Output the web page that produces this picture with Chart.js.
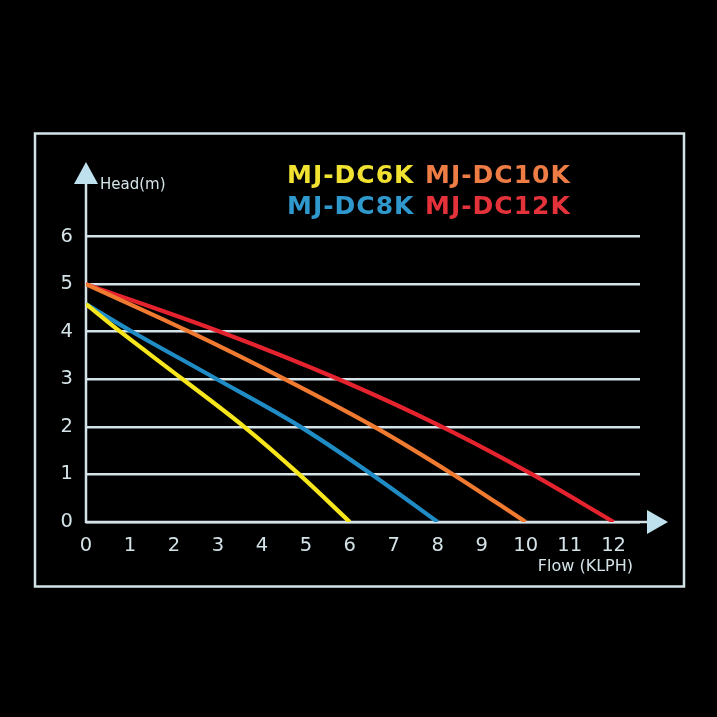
<!DOCTYPE html>
<html><head><meta charset="utf-8">
<script src="https://cdn.jsdelivr.net/npm/chart.js@4.4.0/dist/chart.umd.min.js"></script>
<style>html,body{margin:0;padding:0;background:#000;overflow:hidden}#c{display:block}</style>
</head><body>
<canvas id="c" width="717" height="717" style="width:717px;height:717px"></canvas>
<script>
// ---- data ----
const seriesNames = ['MJ-DC6K', 'MJ-DC8K', 'MJ-DC10K', 'MJ-DC12K'];
const headTicks = [0, 1, 2, 3, 4, 5, 6];
const flowTicks = [0, 1, 2, 3, 4, 5, 6, 7, 8, 9, 10, 11, 12];
const dc6kFlow = [0, 0.78, 2.2, 3.6, 4.85, 6];
const dc6kHead = [4.58, 4, 3, 2, 1, 0];
const dc8kFlow = [0, 1.05, 2.98, 4.88, 6.5, 8];
const dc8kHead = [4.58, 4, 3, 2, 1, 0];
const dc10kFlow = [0, 2.35, 4.53, 6.56, 8.35, 10];
const dc10kHead = [5, 4, 3, 2, 1, 0];
const dc12kFlow = [0, 3.05, 5.75, 8.1, 10.15, 12];
const dc12kHead = [5, 4, 3, 2, 1, 0];
const xTitle = 'Flow (KLPH)';
const yTitle = 'Head(m)';

// ---- styles ----
const lineColors = ['#f7e61c', '#1f8cc6', '#f07a30', '#e5232f'];
const textColors = ['#f1e232', '#2f98cc', '#ee7d45', '#e3323a'];
const ink = '#d3e3e8';
const arrowInk = '#bfe1ee';

function pts(xs, ys) { return xs.map((v, i) => ({ x: v, y: ys[i] })); }
const seriesFlow = [dc6kFlow, dc8kFlow, dc10kFlow, dc12kFlow];
const seriesHead = [dc6kHead, dc8kHead, dc10kHead, dc12kHead];

const datasets = seriesNames.map((n, i) => ({
  label: n,
  data: pts(seriesFlow[i], seriesHead[i]),
  borderColor: lineColors[i],
  backgroundColor: lineColors[i],
  borderWidth: 4.2,
  pointRadius: 0,
  fill: false,
  tension: 0.35,
  borderCapStyle: 'butt'
}));

const deco = {
  id: 'deco',
  beforeDraw(chart) {
    const ctx = chart.ctx;
    ctx.save();
    ctx.fillStyle = '#000';
    ctx.fillRect(0, 0, chart.width, chart.height);
    ctx.strokeStyle = ink;
    ctx.lineWidth = 2.5;
    ctx.strokeRect(35, 133.5, 649, 453);
    ctx.restore();
  },
  beforeDatasetsDraw(chart) {
    const ctx = chart.ctx;
    const xs = chart.scales.x, ys = chart.scales.y;
    const x0 = xs.getPixelForValue(0), y0 = ys.getPixelForValue(0);
    const top = chart.chartArea.top, right = chart.chartArea.right;
    ctx.save();
    ctx.strokeStyle = ink;
    ctx.lineWidth = 2.5;
    ctx.beginPath();
    ctx.moveTo(x0, y0 + 1);
    ctx.lineTo(x0, top - 6);
    ctx.stroke();
    ctx.beginPath();
    ctx.moveTo(x0 - 1, y0);
    ctx.lineTo(right + 8, y0);
    ctx.stroke();
    ctx.fillStyle = arrowInk;
    ctx.beginPath();
    ctx.moveTo(x0 - 12, top - 5);
    ctx.lineTo(x0 + 12, top - 5);
    ctx.lineTo(x0, top - 27);
    ctx.closePath();
    ctx.fill();
    ctx.beginPath();
    ctx.moveTo(right + 7, y0 - 12);
    ctx.lineTo(right + 7, y0 + 12);
    ctx.lineTo(right + 28, y0);
    ctx.closePath();
    ctx.fill();
    ctx.fillStyle = ink;
    ctx.textBaseline = 'middle';
    ctx.textAlign = 'left';
    ctx.font = '15px "DejaVu Sans"';
    ctx.fillText(yTitle, x0 + 14, top - 4);
    ctx.textAlign = 'right';
    ctx.font = '16px "DejaVu Sans"';
    ctx.fillText(xTitle, 633, 567);
    ctx.font = 'bold 25px "DejaVu Sans"';
    ctx.textBaseline = 'alphabetic';
    ctx.textAlign = 'left';
    try { ctx.letterSpacing = '1px'; } catch (e) {}
    const order = [[0, 287, 183], [2, 425, 183], [1, 287, 214], [3, 425, 214]];
    order.forEach(([i, lx, ly]) => {
      ctx.fillStyle = textColors[i];
      ctx.fillText(seriesNames[i], lx, ly);
    });
    ctx.restore();
  }
};

new Chart(document.getElementById('c'), {
  type: 'line',
  data: { datasets },
  options: {
    responsive: false,
    animation: false,
    devicePixelRatio: 1,
    layout: { padding: { left: 0, top: 189, right: 77, bottom: 0 } },
    plugins: { legend: { display: false }, tooltip: { enabled: false } },
    scales: {
      x: {
        type: 'linear',
        min: 0,
        max: 12.6,
        afterFit(s) { s.height = 717 - 522; },
        afterBuildTicks(s) { s.ticks = flowTicks.map(v => ({ value: v })); },
        ticks: {
          color: ink,
          font: { family: 'DejaVu Sans', size: 19.5 },
          padding: 12,
          maxRotation: 0,
          autoSkip: false,
          callback: v => String(v)
        },
        grid: { display: false, drawTicks: false },
        border: { display: false }
      },
      y: {
        type: 'linear',
        min: 0,
        max: 7,
        afterFit(s) { s.width = 86; },
        afterBuildTicks(s) { s.ticks = headTicks.map(v => ({ value: v })); },
        ticks: {
          color: ink,
          font: { family: 'DejaVu Sans', size: 19.5 },
          padding: 13,
          autoSkip: false,
          callback: v => String(v)
        },
        grid: { color: ink, lineWidth: 2.5, drawTicks: false },
        border: { display: false }
      }
    }
  },
  plugins: [deco]
});
</script>
</body></html>
